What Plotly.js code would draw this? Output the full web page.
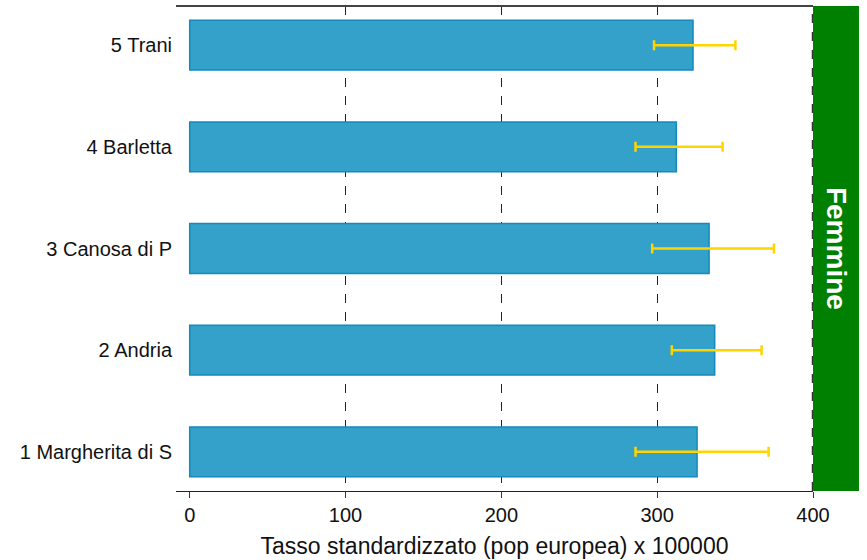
<!DOCTYPE html>
<html>
<head>
<meta charset="utf-8">
<script src="https://cdn.plot.ly/plotly-3.0.1.min.js"></script>
<style>html,body{margin:0;padding:0;background:#fff;}#chart{width:867px;height:560px;}</style>
</head>
<body>
<div id="chart"></div>
<script>
const categories = ["1 Margherita di S", "2 Andria", "3 Canosa di P", "4 Barletta", "5 Trani"];
const rates = [325.6, 336.9, 333.3, 312.3, 323.0];
const lower = [286.1, 309.4, 296.8, 286.1, 298.0];
const upper = [371.5, 367.0, 374.9, 342.0, 350.2];
const gridVals = [100, 200, 300];
const tickVals = [0, 100, 200, 300, 400];
const stripLabel = "Femmine";
const xTitle = "Tasso standardizzato (pop europea) x 100000";

const errPlus = rates.map((v, i) => upper[i] - v);
const errMinus = rates.map((v, i) => v - lower[i]);

const traces = [
  {
    type: "bar",
    orientation: "h",
    y: categories,
    x: rates,
    width: 0.49,
    marker: {color: "#33A1C9", line: {color: "#1589BC", width: 1.5}},
    error_x: {type: "data", symmetric: false, array: errPlus, arrayminus: errMinus,
              color: "#FFD500", thickness: 2.5, width: 5},
    hoverinfo: "x+y",
    showlegend: false
  },
  {
    type: "scatter", mode: "markers", x: [], y: [], xaxis: "x2", showlegend: false
  }
];

const layout = {
  width: 867, height: 560,
  margin: {l: 176, r: 54, t: 6, b: 69},
  paper_bgcolor: "#fff", plot_bgcolor: "#fff",
  font: {family: "Liberation Sans, Arial, sans-serif", color: "#111"},
  bargap: 0.5,
  xaxis: {
    range: [-8.8, 400],
    tickvals: tickVals,
    ticktext: tickVals.map(String),
    ticks: "outside", ticklen: 6, tickcolor: "#333", tickwidth: 1,
    showgrid: false, zeroline: false,
    showline: true, linecolor: "#222", linewidth: 1,
    tickfont: {size: 20, color: "#111"},
    title: {text: xTitle, font: {size: 23, color: "#111"}, standoff: 12},
    automargin: false
  },
  xaxis2: {
    overlaying: "x", range: [-8.8, 400], tickvals: gridVals, showticklabels: false,
    ticks: "", showgrid: true, griddash: "dash", gridcolor: "#222", gridwidth: 1,
    zeroline: false, showline: false
  },
  yaxis: {
    type: "category",
    categoryorder: "array", categoryarray: categories,
    range: [-0.385, 4.385],
    ticks: "", showgrid: false, zeroline: false, showline: false,
    tickfont: {size: 20, color: "#111"},
    ticklabelstandoff: 3,
    automargin: false
  },
  shapes: [
    {type: "rect", xref: "paper", yref: "paper", x0: 1, x1: 1.0722, y0: 0, y1: 1,
     fillcolor: "#008000", line: {width: 0}, layer: "above"},
    {type: "line", xref: "paper", yref: "paper", x0: 0, x1: 1, y0: 1, y1: 1,
     line: {color: "#444", width: 2}, layer: "above"},
    {type: "line", xref: "x", yref: "paper", x0: 400, x1: 400, y0: 0, y1: 1,
     line: {color: "#333", width: 2.5, dash: "dash"}, layer: "above"}
  ],
  annotations: [
    {text: "<b>" + stripLabel + "</b>", xref: "paper", yref: "paper", x: 1.037, y: 0.5,
     showarrow: false, textangle: 90, font: {size: 28, color: "#fff", family: "Liberation Sans, Arial, sans-serif"},
     xanchor: "center", yanchor: "middle"}
  ]
};

Plotly.newPlot("chart", traces, layout, {displayModeBar: false, staticPlot: true});
</script>
</body>
</html>
